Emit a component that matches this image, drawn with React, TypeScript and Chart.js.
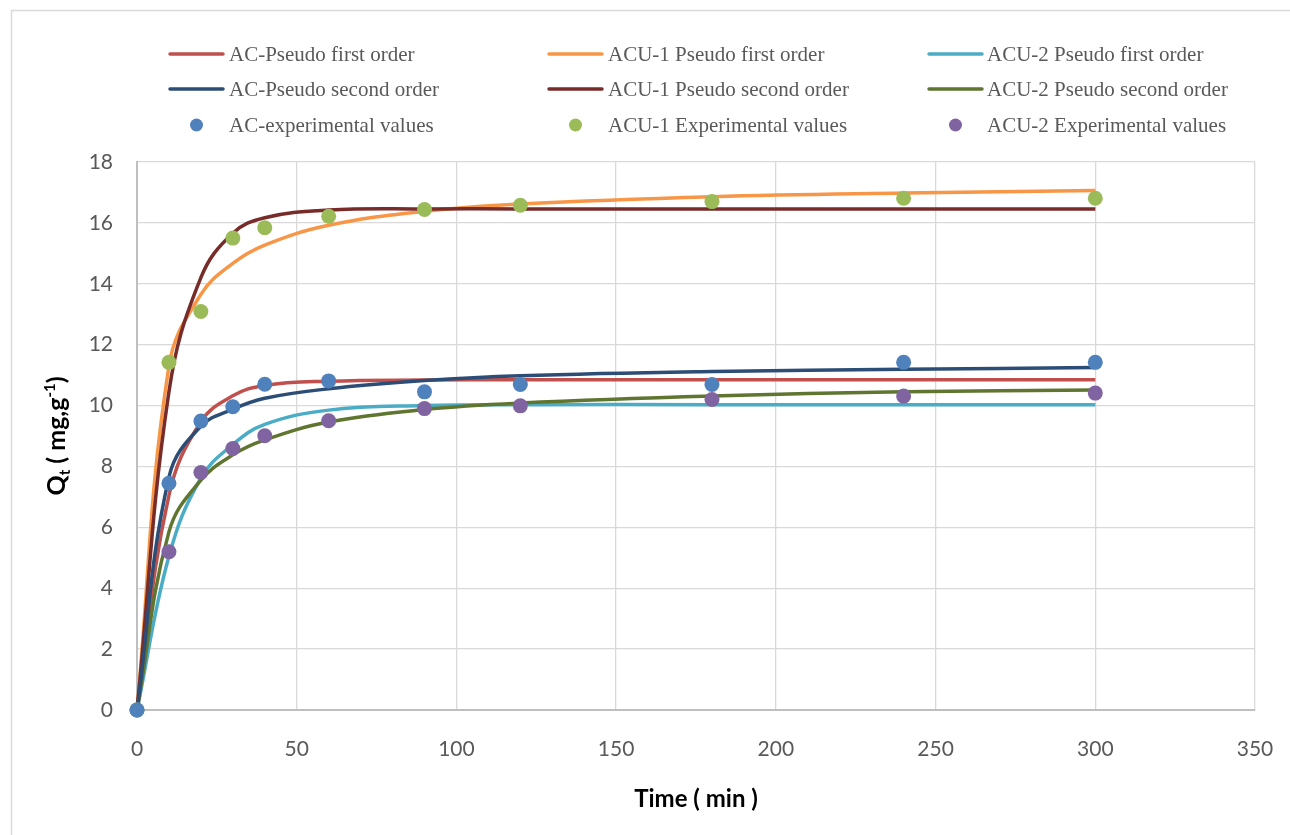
import React, { useEffect, useRef } from 'react';
import { Chart, registerables } from 'chart.js';

Chart.register(...registerables);

// ---- data ----
const times = [0, 10, 20, 30, 40, 60, 90, 120, 180, 240, 300];

const acExperimental = [0, 7.45, 9.49, 9.96, 10.7, 10.81, 10.45, 10.69, 10.69, 11.42, 11.42];
const acu1Experimental = [0, 11.42, 13.09, 15.5, 15.84, 16.22, 16.44, 16.58, 16.7, 16.81, 16.81];
const acu2Experimental = [0, 5.2, 7.8, 8.59, 9.01, 9.5, 9.9, 9.99, 10.2, 10.31, 10.41];

const acPseudoFirst = [0, 7.05, 9.47, 10.32, 10.66, 10.8, 10.84, 10.85, 10.85, 10.85, 10.85];
const acPseudoSecond = [0, 7.65, 9.32, 9.88, 10.24, 10.55, 10.82, 10.98, 11.12, 11.19, 11.25];
const acu1PseudoFirst = [0, 11.3, 13.65, 14.67, 15.27, 15.92, 16.38, 16.62, 16.86, 16.98, 17.06];
const acu1PseudoSecond = [0, 10.45, 14.2, 15.66, 16.17, 16.42, 16.46, 16.46, 16.46, 16.46, 16.46];
const acu2PseudoFirst = [0, 5.05, 7.62, 8.72, 9.38, 9.85, 10.0, 10.03, 10.03, 10.03, 10.03];
const acu2PseudoSecond = [0, 5.85, 7.55, 8.38, 8.87, 9.46, 9.87, 10.08, 10.31, 10.45, 10.51];

const xMin = 0;
const xMax = 350;
const xStep = 50;
const yMin = 0;
const yMax = 18;
const yStep = 2;

const xTitle = 'Time ( min )';

type Item = { label: string; color: string; kind: 'line' | 'point' };
const legendRows: Item[][] = [
  [
    { label: 'AC-Pseudo first order', color: '#C0504D', kind: 'line' },
    { label: 'ACU-1 Pseudo first order', color: '#F79646', kind: 'line' },
    { label: 'ACU-2 Pseudo first order', color: '#4BACC6', kind: 'line' },
  ],
  [
    { label: 'AC-Pseudo second order', color: '#2C4D75', kind: 'line' },
    { label: 'ACU-1 Pseudo second order', color: '#772C2A', kind: 'line' },
    { label: 'ACU-2 Pseudo second order', color: '#5F7530', kind: 'line' },
  ],
  [
    { label: 'AC-experimental values', color: '#4F81BD', kind: 'point' },
    { label: 'ACU-1 Experimental values', color: '#9BBB59', kind: 'point' },
    { label: 'ACU-2 Experimental values', color: '#8064A2', kind: 'point' },
  ],
];

const pairs = (ys: number[]) => times.map((t, i) => ({ x: t, y: ys[i] }));

const lineSet = (label: string, ys: number[], color: string, order: number) => ({
  label,
  data: pairs(ys),
  showLine: true,
  borderColor: color,
  backgroundColor: color,
  borderWidth: 3.5,
  pointRadius: 0,
  pointHoverRadius: 0,
  tension: 0.4,
  fill: false,
  clip: false,
  order,
});

const pointSet = (label: string, ys: number[], color: string) => ({
  label,
  data: pairs(ys),
  showLine: false,
  pointRadius: 7.5,
  pointHoverRadius: 7.5,
  pointBackgroundColor: color,
  pointBorderWidth: 0,
  borderColor: color,
  backgroundColor: color,
  clip: false,
  order: 0,
});

const decorPlugin = {
  id: 'decor',
  beforeDraw(chart: any) {
    const ctx = chart.ctx;
    ctx.save();
    ctx.fillStyle = '#ffffff';
    ctx.fillRect(0, 0, chart.width, chart.height);
    ctx.strokeStyle = '#d9d9d9';
    ctx.lineWidth = 1.5;
    ctx.strokeRect(11.5, 10.5, chart.width + 20, chart.height + 20);
    ctx.restore();
  },
  afterDraw(chart: any) {
    const ctx = chart.ctx;
    ctx.save();
    // legend
    const colLine = [170, 549, 929];
    const colText = [229, 608, 987];
    const rowY = [54, 89, 125];
    ctx.font = '21px "Liberation Serif", serif';
    ctx.textBaseline = 'middle';
    ctx.textAlign = 'left';
    legendRows.forEach((row, r) => {
      row.forEach((it, c) => {
        const y = rowY[r];
        if (it.kind === 'line') {
          ctx.strokeStyle = it.color;
          ctx.lineWidth = 3.5;
          ctx.lineCap = 'round';
          ctx.beginPath();
          ctx.moveTo(colLine[c], y);
          ctx.lineTo(colLine[c] + 53, y);
          ctx.stroke();
        } else {
          ctx.fillStyle = it.color;
          ctx.beginPath();
          ctx.arc(colLine[c] + 26.5, y, 6.5, 0, Math.PI * 2);
          ctx.fill();
        }
        ctx.fillStyle = '#595959';
        ctx.fillText(it.label, colText[c], y + 1);
      });
    });

    // x title
    ctx.fillStyle = '#000000';
    ctx.font = 'bold 24px Lato, sans-serif';
    ctx.textAlign = 'center';
    ctx.textBaseline = 'alphabetic';
    const ca = chart.chartArea;
    ctx.fillText(xTitle, (ca.left + ca.right) / 2, 807);

    // y title with sub/superscript
    const segs = [
      { t: 'Q', s: 25, dy: 0 },
      { t: 't', s: 15, dy: 5 },
      { t: ' ( mg,g', s: 25, dy: 0 },
      { t: '-1', s: 15, dy: -10 },
      { t: ')', s: 25, dy: 0 },
    ];
    let total = 0;
    const widths = segs.map((sg) => {
      ctx.font = `bold ${sg.s}px Lato, sans-serif`;
      const w = ctx.measureText(sg.t).width;
      total += w;
      return w;
    });
    ctx.translate(65, (ca.top + ca.bottom) / 2);
    ctx.rotate(-Math.PI / 2);
    ctx.textAlign = 'left';
    let x = -total / 2;
    segs.forEach((sg, i) => {
      ctx.font = `bold ${sg.s}px Lato, sans-serif`;
      ctx.fillText(sg.t, x, sg.dy);
      x += widths[i];
    });
    ctx.restore();
  },
};

export default function App() {
  const ref = useRef<HTMLCanvasElement | null>(null);

  useEffect(() => {
    if (!ref.current) return;
    const tickFont = { family: 'Lato, sans-serif', size: 21 };
    const chart = new Chart(ref.current, {
      type: 'scatter',
      data: {
        datasets: [
          pointSet('AC-experimental values', acExperimental, '#4F81BD'),
          pointSet('ACU-1 Experimental values', acu1Experimental, '#9BBB59'),
          pointSet('ACU-2 Experimental values', acu2Experimental, '#8064A2'),
          lineSet('AC-Pseudo second order', acPseudoSecond, '#2C4D75', 1),
          lineSet('ACU-1 Pseudo second order', acu1PseudoSecond, '#772C2A', 1),
          lineSet('ACU-2 Pseudo second order', acu2PseudoSecond, '#5F7530', 1),
          lineSet('AC-Pseudo first order', acPseudoFirst, '#C0504D', 2),
          lineSet('ACU-1 Pseudo first order', acu1PseudoFirst, '#F79646', 2),
          lineSet('ACU-2 Pseudo first order', acu2PseudoFirst, '#4BACC6', 2),
        ] as any,
      },
      options: {
        responsive: false,
        animation: false,
        events: [],
        layout: { padding: { top: 162, right: 35, left: 0, bottom: 0 } },
        plugins: {
          legend: { display: false },
          tooltip: { enabled: false },
          title: { display: false },
        },
        scales: {
          x: {
            type: 'linear',
            min: xMin,
            max: xMax,
            ticks: { stepSize: xStep, font: tickFont, color: '#595959', padding: 27 },
            grid: { color: '#d9d9d9', lineWidth: 1.3, drawTicks: false },
            border: { color: '#bfbfbf', width: 2 },
            afterFit: (s: any) => {
              s.height = 125;
              s.paddingLeft = 0;
              s.paddingRight = 0;
            },
          },
          y: {
            type: 'linear',
            min: yMin,
            max: yMax,
            ticks: { stepSize: yStep, font: tickFont, color: '#595959', padding: 24 },
            grid: { color: '#d9d9d9', lineWidth: 1.3, drawTicks: false },
            border: { color: '#bfbfbf', width: 2 },
            afterFit: (s: any) => {
              s.width = 137;
              s.paddingTop = 0;
              s.paddingBottom = 0;
            },
          },
        },
      } as any,
      plugins: [decorPlugin],
    });
    return () => chart.destroy();
  }, []);

  return (
    <div style={{ position: 'fixed', left: 0, top: 0, width: 1290, height: 835, background: '#fff' }}>
      <canvas ref={ref} width={1290} height={835} style={{ width: 1290, height: 835, display: 'block' }} />
    </div>
  );
}
